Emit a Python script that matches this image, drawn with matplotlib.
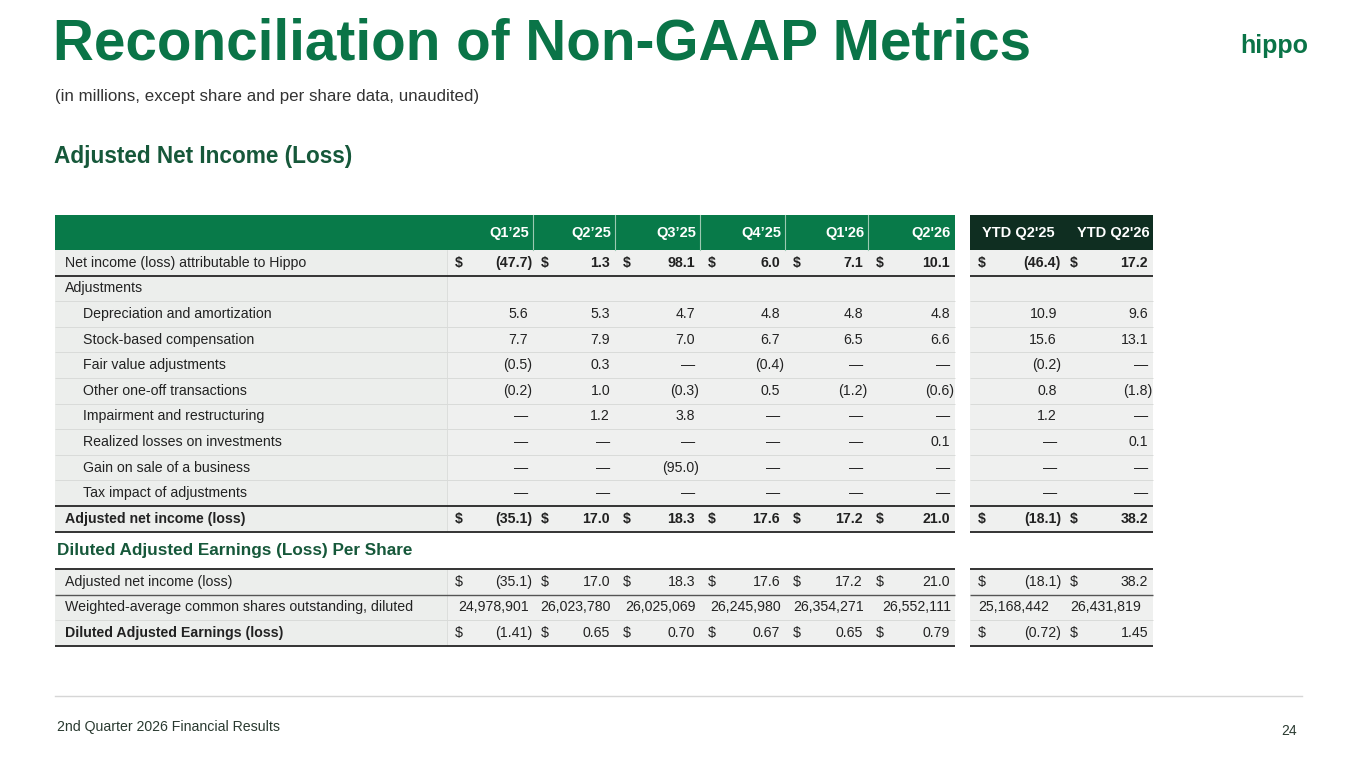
import matplotlib
matplotlib.use("Agg")
import matplotlib.pyplot as plt
from matplotlib.patches import Rectangle

plt.rcParams['font.family'] = ['Liberation Sans', 'DejaVu Sans']

# 数据
quarters = ["Q1’25", "Q2’25", "Q3’25", "Q4’25", "Q1'26", "Q2'26"]
ytd_cols = ["YTD Q2'25", "YTD Q2'26"]

row_labels = [
    "Net income (loss) attributable to Hippo",
    "Adjustments",
    "Depreciation and amortization",
    "Stock-based compensation",
    "Fair value adjustments",
    "Other one-off transactions",
    "Impairment and restructuring",
    "Realized losses on investments",
    "Gain on sale of a business",
    "Tax impact of adjustments",
    "Adjusted net income (loss)",
]
net_income = [-47.7, 1.3, 98.1, 6.0, 7.1, 10.1, -46.4, 17.2]
dep_amort = [5.6, 5.3, 4.7, 4.8, 4.8, 4.8, 10.9, 9.6]
stock_comp = [7.7, 7.9, 7.0, 6.7, 6.5, 6.6, 15.6, 13.1]
fair_value = [-0.5, 0.3, None, -0.4, None, None, -0.2, None]
one_off = [-0.2, 1.0, -0.3, 0.5, -1.2, -0.6, 0.8, -1.8]
impairment = [None, 1.2, 3.8, None, None, None, 1.2, None]
realized_losses = [None, None, None, None, None, 0.1, None, 0.1]
gain_on_sale = [None, None, -95.0, None, None, None, None, None]
tax_impact = [None] * 8
adj_net_income = [-35.1, 17.0, 18.3, 17.6, 17.2, 21.0, -18.1, 38.2]

eps_labels = [
    "Adjusted net income (loss)",
    "Weighted-average common shares outstanding, diluted",
    "Diluted Adjusted Earnings (loss)",
]
diluted_shares = [24978901, 26023780, 26025069, 26245980, 26354271, 26552111,
                  25168442, 26431819]
diluted_eps = [-1.41, 0.65, 0.70, 0.67, 0.65, 0.79, -0.72, 1.45]

# 颜色
GREEN = '#087a49'
DARK = '#0f2e21'
TITLE_GREEN = '#0a7447'
SUB_GREEN = '#16583a'
ROW_BG = '#eff0ef'
LBL_BG = '#eceeec'
SEP = '#d9dbd9'
TXT = '#222222'
FS = 10.2


def fmt(v, dec=1):
    if v is None:
        return '—'
    if v < 0:
        return f'({abs(v):.{dec}f})'
    return f'{v:.{dec}f}'


fig = plt.figure(figsize=(13.65, 7.68), dpi=100)
ax = fig.add_axes([0, 0, 1, 1])
ax.set_xlim(0, 1365)
ax.set_ylim(768, 0)
ax.axis('off')

# 标题
ax.text(53, 44, 'Reconciliation of Non-GAAP Metrics', fontsize=40.8, fontweight='bold',
        color=TITLE_GREEN, va='center', ha='left')
ax.text(55, 97, '(in millions, except share and per share data, unaudited)', fontsize=12.2,
        color='#333333', va='center', ha='left')
ax.text(54, 156, 'Adjusted Net Income (Loss)', fontsize=16.3, fontweight='bold',
        color=SUB_GREEN, va='center', ha='left')
ax.text(1308, 46, 'hippo', fontsize=18, fontweight='bold', color=TITLE_GREEN,
        va='center', ha='right')

# 列位置
lbl_left, lbl_right = 55, 447
q_edges = [447, 533, 615, 700, 785, 868, 955]
y_edges = [970, 1062, 1153]
col_lefts = q_edges[:-1] + y_edges[:-1]
col_rights = q_edges[1:] + y_edges[1:]

# 表头
hdr_top, hdr_bot = 215, 250
ax.add_patch(Rectangle((lbl_left, hdr_top), q_edges[-1] - lbl_left, hdr_bot - hdr_top,
                       color=GREEN, lw=0))
ax.add_patch(Rectangle((y_edges[0], hdr_top), y_edges[-1] - y_edges[0], hdr_bot - hdr_top,
                       color=DARK, lw=0))
for x in q_edges[1:-1]:
    ax.plot([x, x], [hdr_top, hdr_bot], color='#9cc9b2', lw=0.8)
for i, q in enumerate(quarters + ytd_cols):
    xr = col_rights[i] - 4 if i < 6 else (col_rights[i] - 7 if i == 6 else col_rights[i] - 3)
    ax.text(xr, (hdr_top + hdr_bot) / 2, q, fontsize=10.5, fontweight='bold', color='white',
            ha='right', va='center')


def draw_bg(top, bot):
    ax.add_patch(Rectangle((lbl_left, top), lbl_right - lbl_left, bot - top, color=LBL_BG, lw=0))
    ax.add_patch(Rectangle((lbl_right, top), q_edges[-1] - lbl_right, bot - top, color=ROW_BG, lw=0))
    ax.add_patch(Rectangle((y_edges[0], top), y_edges[-1] - y_edges[0], bot - top, color=ROW_BG, lw=0))


def hline(y, color, lw):
    ax.plot([lbl_left, q_edges[-1]], [y, y], color=color, lw=lw, solid_capstyle='butt')
    ax.plot([y_edges[0], y_edges[-1]], [y, y], color=color, lw=lw, solid_capstyle='butt')


def draw_value_row(yc, vals, dollar=False, bold=False, dec=1):
    w = 'bold' if bold else 'normal'
    for i, v in enumerate(vals):
        s = fmt(v, dec)
        xr = col_rights[i] - 5
        if s.endswith(')'):
            xr += 4
        ax.text(xr, yc, s, fontsize=FS, fontweight=w, color=TXT, ha='right', va='center')
        if dollar:
            ax.text(col_lefts[i] + 8, yc, '$', fontsize=FS, fontweight=w, color=TXT,
                    ha='left', va='center')


# 第一张表
row_h = 25.6
rows = [net_income, None, dep_amort, stock_comp, fair_value, one_off, impairment,
        realized_losses, gain_on_sale, tax_impact, adj_net_income]
top = hdr_bot
draw_bg(top, top + row_h * len(rows))
ax.plot([lbl_right, lbl_right], [top, top + row_h * len(rows)], color=SEP, lw=0.6)
for r, (label, vals) in enumerate(zip(row_labels, rows)):
    y0 = top + r * row_h
    yc = y0 + row_h / 2
    bold = r in (0, 10)
    indent = 83 if 2 <= r <= 9 else 65
    ax.text(indent, yc, label, fontsize=FS, fontweight='bold' if r == 10 else 'normal',
            color=TXT, ha='left', va='center')
    if vals is not None:
        draw_value_row(yc, vals, dollar=bold, bold=bold)
    if r > 0 and r not in (1, 10):
        hline(y0, SEP, 0.7)
hline(top + row_h, '#333333', 1.4)
hline(top + row_h * 10, '#333333', 1.4)
hline(top + row_h * 11, '#333333', 1.4)

# 第二张表
ax.text(57, 551, 'Diluted Adjusted Earnings (Loss) Per Share', fontsize=12.3,
        fontweight='bold', color=SUB_GREEN, va='center', ha='left')
top2 = 569
draw_bg(top2, top2 + row_h * 3)
ax.plot([lbl_right, lbl_right], [top2, top2 + row_h * 3], color=SEP, lw=0.6)
for r, label in enumerate(eps_labels):
    y0 = top2 + r * row_h
    yc = y0 + row_h / 2
    ax.text(65, yc, label, fontsize=FS, fontweight='bold' if r == 2 else 'normal',
            color=TXT, ha='left', va='center')
draw_value_row(top2 + row_h * 0.5, adj_net_income, dollar=True)
for i, v in enumerate(diluted_shares):
    s = f'{v:,}'
    if i < 6:
        ax.text(col_rights[i] - 4, top2 + row_h * 1.5, s, fontsize=FS, color=TXT,
                ha='right', va='center')
    else:
        ax.text((col_lefts[i] + col_rights[i]) / 2 - 2, top2 + row_h * 1.5, s, fontsize=FS,
                color=TXT, ha='center', va='center')
draw_value_row(top2 + row_h * 2.5, diluted_eps, dollar=True, dec=2)
hline(top2, '#333333', 1.4)
hline(top2 + row_h, '#555555', 1.0)
hline(top2 + row_h * 2, SEP, 0.7)
hline(top2 + row_h * 3, '#333333', 1.4)

# 页脚
ax.plot([55, 1302], [696, 696], color='#d6d6d6', lw=1)
ax.text(57, 727, '2nd Quarter 2026 Financial Results', fontsize=10.2, color='#2a3a30',
        ha='left', va='center')
ax.text(1297, 731, '24', fontsize=10, color='#2a3a30', ha='right', va='center')

fig.savefig('out.png', dpi=100)
plt.close(fig)
